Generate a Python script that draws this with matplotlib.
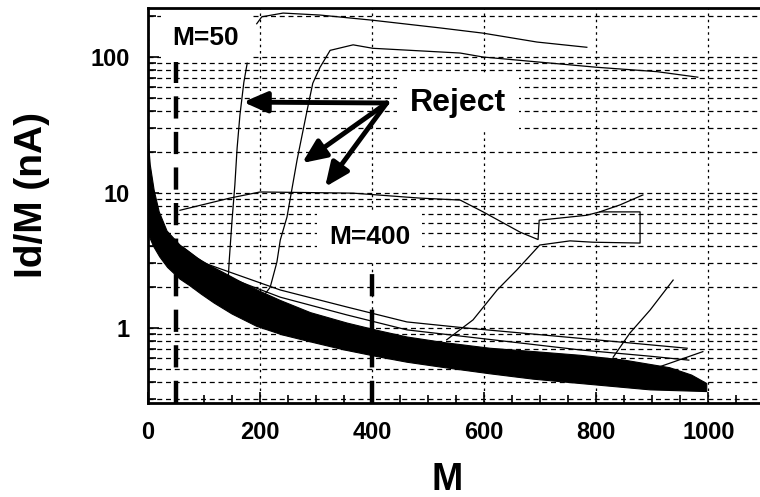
import numpy as np
import matplotlib
matplotlib.use("Agg")
import matplotlib.pyplot as plt
from matplotlib.ticker import MultipleLocator, LogLocator, NullFormatter

plt.rcParams['font.family'] = ['Liberation Sans', 'DejaVu Sans']
plt.rcParams['font.weight'] = 'bold'

# dense band of accepted curves (outline)
band_M_upper = [0, 4, 11, 20, 34, 57, 87, 110, 136, 165, 196, 236, 290, 355, 410,
                462, 530, 610, 690, 771, 850, 931, 970, 997]
band_v_upper = [26, 16, 10.4, 7.2, 5.2, 4.1, 3.3, 2.9, 2.55, 2.2, 1.9, 1.6, 1.3, 1.09, 0.96,
                0.86, 0.78, 0.71, 0.67, 0.63, 0.58, 0.51, 0.45, 0.39]
band_M_lower = [0, 10, 21, 35, 57, 75, 95, 118, 150, 194, 240, 296, 350, 414, 462,
                530, 610, 687, 771, 896, 997]
band_v_lower = [5.0, 4.0, 3.35, 2.8, 2.3, 2.05, 1.78, 1.53, 1.27, 1.03, 0.89, 0.78, 0.69, 0.61, 0.56,
                0.51, 0.46, 0.42, 0.39, 0.35, 0.34]

# single curves
top_M = [194, 203, 241, 307, 400, 521, 598, 694, 783]
top_v = [176, 198, 211, 204, 187, 164, 150, 129, 118]

reject1_M = [143, 145, 150, 155, 159, 164, 171, 177]
reject1_v = [2.26, 3.18, 6.27, 11.4, 21.3, 37.2, 65, 90]

reject2_M = [203, 218, 230, 236, 248, 266, 284, 294, 307, 325, 366, 401, 557, 598, 801, 908, 981]
reject2_v = [1.66, 2.0, 3.07, 4.46, 6.6, 17.4, 40.6, 64, 84, 112, 123, 116, 107, 100, 84, 78, 71]

bump_M = [57, 146, 200, 366, 485, 557, 598, 664, 696, 698, 783, 806, 842, 883]
bump_v = [7.4, 9.1, 10.1, 9.9, 9.1, 8.8, 7.2, 5.1, 4.5, 6.25, 6.8, 7.2, 8.1, 9.6]

rise1_M = [533, 580, 623, 658, 699, 753, 794, 878, 878, 806]
rise1_v = [0.82, 1.15, 1.91, 2.68, 4.1, 4.4, 4.3, 4.24, 7.2, 7.2]

rise2_M = [830, 860, 896, 937]
rise2_v = [0.61, 0.92, 1.36, 2.26]

rise3_M = [896, 990]
rise3_v = [0.49, 0.67]

lineA_M = [62, 100, 236, 355, 462, 569, 771, 962]
lineA_v = [3.96, 3.02, 1.91, 1.43, 1.11, 1.0, 0.84, 0.71]

lineB_M = [118, 236, 355, 462, 771, 896, 965]
lineB_v = [2.59, 1.69, 1.25, 0.97, 0.69, 0.62, 0.58]

# annotations
arrow_tail = (426, 45.8)
arrow_tips = [(170, 46.5), (275, 16.5), (316, 11.0)]
m50_top = 92
m400_top = 2.8

x_ticks = [0, 200, 400, 600, 800, 1000]
y_ticks = [1, 10, 100]

fig = plt.figure(figsize=(7.6, 4.97), dpi=100)
ax = fig.add_axes([148 / 760, 94 / 497, 612 / 760, 395 / 497])

ax.set_yscale('log')
ax.set_xlim(0, 1092)
ax.set_ylim(0.28, 230)

# band + curves
band_x = np.concatenate([band_M_upper, band_M_lower[::-1]])
band_y = np.concatenate([band_v_upper, band_v_lower[::-1]])
ax.fill(band_x, band_y, color='black', lw=0.8, zorder=4)

for mm, vv in [(top_M, top_v), (reject1_M, reject1_v), (reject2_M, reject2_v),
               (bump_M, bump_v), (rise1_M, rise1_v), (rise2_M, rise2_v),
               (rise3_M, rise3_v), (lineA_M, lineA_v), (lineB_M, lineB_v)]:
    ax.plot(mm, vv, color='black', lw=0.9, zorder=4)

# M=50 / M=400 markers
ax.vlines(50, 0.28, m50_top, colors='black', lw=3.2, linestyles=(0, (5, 3)), zorder=4)
ax.vlines(400, 0.28, m400_top, colors='black', lw=3.2, linestyles=(0, (5, 3)), zorder=4)

ax.text(103, 138, 'M=50', fontsize=19, ha='center', va='center', zorder=3,
        bbox=dict(boxstyle='square,pad=0.45', fc='white', ec='none'))
ax.text(396, 4.7, 'M=400', fontsize=19, ha='center', va='center', zorder=3,
        bbox=dict(boxstyle='square,pad=0.45', fc='white', ec='none'))
ax.text(467, 45.8, 'Reject', fontsize=23, ha='left', va='center', zorder=3,
        bbox=dict(boxstyle='square,pad=0.4', fc='white', ec='none'))

for tip in arrow_tips:
    ax.annotate('', xy=tip, xytext=arrow_tail, zorder=5,
                arrowprops=dict(arrowstyle='-|>,head_length=0.8,head_width=0.35',
                                lw=3.5, color='black', mutation_scale=18,
                                shrinkA=0, shrinkB=0))

# axes
ax.set_xticks(x_ticks)
ax.set_xticklabels([str(t) for t in x_ticks])
ax.xaxis.set_minor_locator(MultipleLocator(50))
ax.set_yticks(y_ticks)
ax.set_yticklabels([str(t) for t in y_ticks])
ax.yaxis.set_minor_locator(LogLocator(base=10, subs=np.arange(2, 10)))
ax.yaxis.set_minor_formatter(NullFormatter())

ax.grid(True, which='both', axis='y', color='black', lw=0.9, ls=(0, (4, 3)))
ax.grid(True, which='major', axis='x', color='black', lw=0.9, ls=(0, (2, 3)))
ax.set_axisbelow(True)

ax.tick_params(which='both', direction='in', width=1.2, labelsize=17, pad=13)
ax.tick_params(which='major', length=8)
ax.tick_params(which='minor', length=6)
ax.tick_params(axis='x', pad=13)

for s in ['left', 'bottom', 'top']:
    ax.spines[s].set_linewidth(2)
ax.spines['right'].set_visible(False)

ax.set_xlabel('M', fontsize=27, fontweight='bold')
ax.set_ylabel('Id/M (nA)', fontsize=28, fontweight='bold')
ax.xaxis.set_label_coords(0.489, -0.15)
ax.yaxis.set_label_coords(-0.16, 0.527)

plt.savefig('out.png', dpi=100)
plt.close()
